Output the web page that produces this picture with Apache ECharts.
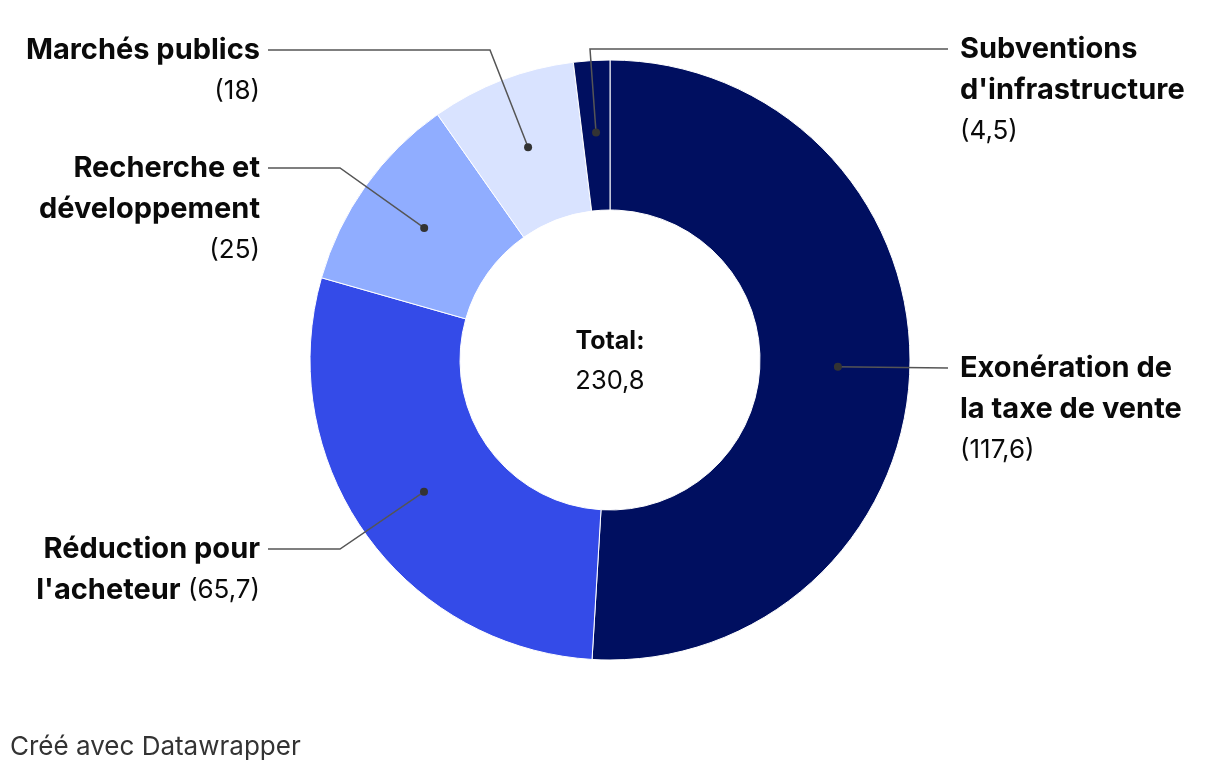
<!DOCTYPE html>
<html><head><meta charset="utf-8">
<script src="https://cdn.jsdelivr.net/npm/echarts@6/dist/echarts.min.js"></script>
<style>html,body{margin:0;padding:0;background:#fff}#c{width:1220px;height:774px}</style>
</head><body><div id="c"></div>
<script>
// ---- data ----
const categories = ["Exonération de\nla taxe de vente", "Réduction pour\nl'acheteur", "Recherche et\ndéveloppement", "Marchés publics", "Subventions\nd'infrastructure"];
const values = [117.6, 65.7, 25, 18, 4.5];
const colors = ['#000f60', '#344be8', '#90adff', '#d9e3ff', '#000f60'];
const valueInline = [false, true, false, false, false];
const centerTitle = 'Total:';
const footerText = 'Créé avec Datawrapper';

// ---- layout ----
const FONT = 'Inter, "Noto Sans", sans-serif';
const CX = 610, CY = 360, R0 = 150, R1 = 300, RM = (R0 + R1) / 2;
const labelPos = [
  { x: 960, y: 368, side: 'right', elbowX: null },
  { x: 260, y: 549, side: 'left', elbowX: 340 },
  { x: 260, y: 168, side: 'left', elbowX: 340 },
  { x: 260, y: 50, side: 'left', elbowX: 490 },
  { x: 960, y: 49, side: 'right', elbowX: 590 }
];
const fmt = v => String(v).replace('.', ',');
const total = Math.round(values.reduce((a, b) => a + b, 0) * 10) / 10;

const chart = echarts.init(document.getElementById('c'), null, { renderer: 'canvas' });

const richFor = side => ({
  b: { fontFamily: FONT, fontWeight: 'bold', fontSize: 29, lineHeight: 41, color: '#0a0a0a', align: side === 'left' ? 'right' : 'left' },
  v: { fontFamily: FONT, fontWeight: 'normal', fontSize: 26, lineHeight: 41, color: '#0a0a0a', align: side === 'left' ? 'right' : 'left' }
});

chart.setOption({
  animation: false,
  backgroundColor: '#fff',
  series: [
    {
      type: 'pie',
      z: 2,
      center: [CX, CY],
      radius: [R0, R1],
      startAngle: 90,
      clockwise: true,
      silent: true,
      avoidLabelOverlap: false,
      itemStyle: { borderColor: '#fff', borderWidth: 1 },
      label: { show: false },
      labelLine: { show: false },
      data: values.map((v, i) => ({ value: v, name: categories[i], itemStyle: { color: colors[i] } }))
    },
    {
      type: 'pie',
      z: 5,
      center: [CX, CY],
      radius: [0, RM],
      startAngle: 90,
      clockwise: true,
      silent: true,
      avoidLabelOverlap: false,
      itemStyle: { color: 'rgba(0,0,0,0)', borderWidth: 0 },
      label: {
        show: true, position: 'outside', fontFamily: FONT, fontSize: 26, color: '#0a0a0a',
        formatter: p => {
          const i = p.dataIndex;
          const lines = categories[i].split('\n').map(s => '{b|' + s + '}');
          const v = '{v|(' + fmt(values[i]) + ')}';
          if (valueInline[i]) lines[lines.length - 1] += '{v| }' + v; else lines.push(v);
          return lines.join('\n');
        }
      },
      labelLine: { show: true, length: 10, length2: 10, lineStyle: { color: '#555', width: 1.5 } },
      labelLayout: function (p) {
        const L = labelPos[p.dataIndex];
        const pts = p.labelLinePoints;
        let start = [CX, CY];
        if (pts && pts[0]) {
          const dx = pts[0][0] - CX, dy = pts[0][1] - CY;
          const d = Math.sqrt(dx * dx + dy * dy) || 1;
          start = [CX + dx / d * RM, CY + dy / d * RM];
        }
        const endX = L.side === 'left' ? L.x + 8 : L.x - 12;
        const line = [start];
        if (L.elbowX != null) line.push([L.elbowX, L.y]);
        line.push([endX, L.y]);
        return {
          x: L.x, y: L.y - 20.5,
          align: L.side === 'left' ? 'right' : 'left',
          verticalAlign: 'top',
          labelLinePoints: line
        };
      },
      data: values.map((v, i) => ({ value: v, name: categories[i], label: { rich: richFor(labelPos[i].side) } }))
    },
    {
      // dots at mid-ring, drawn on top of the leader lines
      type: 'pie',
      z: 6,
      center: [CX, CY],
      radius: [R0, R1],
      startAngle: 90,
      clockwise: true,
      silent: true,
      avoidLabelOverlap: false,
      itemStyle: { color: 'rgba(0,0,0,0)', borderWidth: 0 },
      label: {
        show: true, position: 'inside', formatter: '{d| }', fontSize: 1,
        rich: { d: { width: 8, height: 8, borderRadius: 4, backgroundColor: '#333', fontSize: 1 } }
      },
      labelLine: { show: false },
      data: values.map((v, i) => ({ value: v, name: categories[i] }))
    }
  ],
  graphic: [
    { type: 'text', style: { text: centerTitle, x: CX, y: 341, align: 'center', verticalAlign: 'middle', font: 'bold 25px ' + FONT, fill: '#0a0a0a' } },
    { type: 'text', style: { text: fmt(total), x: CX, y: 381, align: 'center', verticalAlign: 'middle', font: '25.5px ' + FONT, fill: '#0a0a0a' } },
    { type: 'text', style: { text: footerText, x: 10, y: 747, align: 'left', verticalAlign: 'middle', font: '26px ' + FONT, fill: '#333' } }
  ]
});
</script>
</body></html>
